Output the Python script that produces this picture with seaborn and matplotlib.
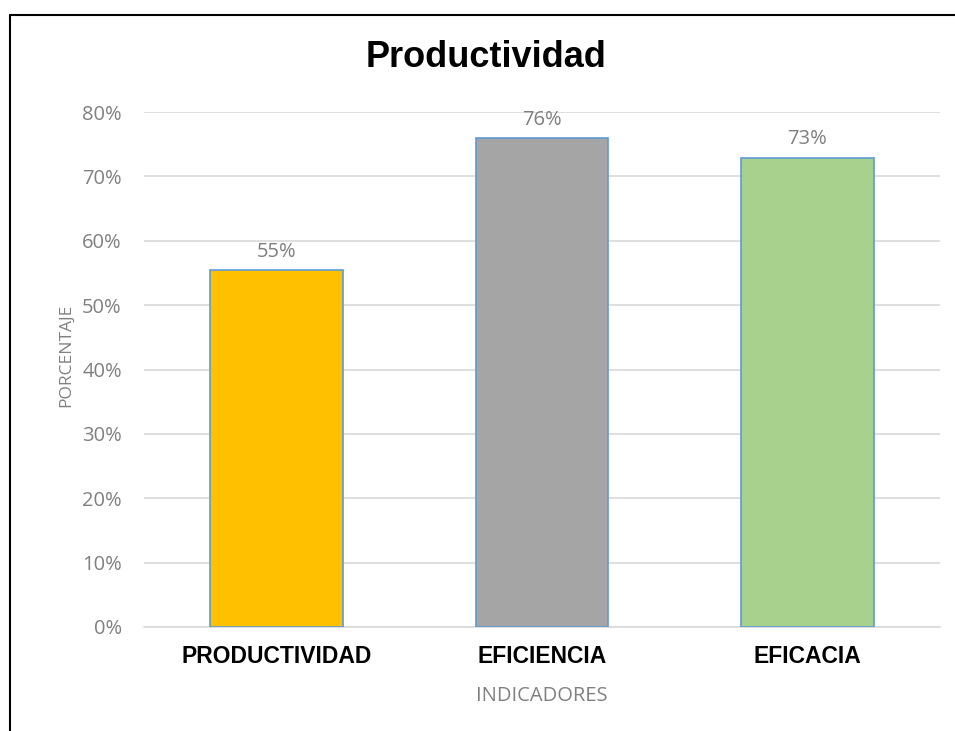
import matplotlib
matplotlib.use("Agg")
import matplotlib.pyplot as plt
import seaborn as sns
import pandas as pd
from matplotlib.lines import Line2D

categories = ["PRODUCTIVIDAD", "EFICIENCIA", "EFICACIA"]
values = [0.554, 0.759, 0.729]
labels = ["55%", "76%", "73%"]
colors = ["#FFC000", "#A5A5A5", "#A9D18E"]
yticks = [0, 0.1, 0.2, 0.3, 0.4, 0.5, 0.6, 0.7, 0.8]
ytick_labels = ["0%", "10%", "20%", "30%", "40%", "50%", "60%", "70%", "80%"]

sns.set_style("white")
plt.rcParams['font.family'] = ['Open Sans', 'DejaVu Sans']

df = pd.DataFrame({"cat": categories, "val": values})

fig = plt.figure(figsize=(9.55, 7.31), dpi=100)
ax = fig.add_axes([144/955, 1-627/731, (940-144)/955, (627-112)/731])

sns.barplot(data=df, x="cat", y="val", hue="cat", palette=colors, legend=False,
            width=0.5, edgecolor="#5B9BD5", linewidth=1.2, ax=ax, zorder=3, saturation=1)

ax.set_xlim(-0.5, 2.5)
ax.set_ylim(0, 0.8)
ax.set_yticks(yticks)
ax.set_yticklabels(ytick_labels, color="#808080", fontsize=14.5)
ax.yaxis.grid(True, color="#D9D9D9", linewidth=1.2, zorder=0)
ax.set_axisbelow(True)
for s in ["top", "right", "left"]:
    ax.spines[s].set_visible(False)
ax.spines["bottom"].set_color("#D9D9D9")
ax.spines["bottom"].set_linewidth(1.2)
ax.tick_params(axis="y", length=0, pad=16)
ax.tick_params(axis="x", length=0, pad=13)
ax.set_xticks(range(len(categories)))
ax.set_xticklabels(categories, fontsize=16.5, fontweight="bold", color="black",
                   family=["Liberation Sans", "DejaVu Sans"])

for i, (v, lab) in enumerate(zip(values, labels)):
    ax.text(i, v + 0.021, lab, ha="center", va="baseline", fontsize=14.5, color="#7F7F7F")

ax.set_xlabel("INDICADORES", fontsize=14.5, color="#808080")
ax.xaxis.set_label_coords(0.5, -0.115)
ax.set_ylabel("PORCENTAJE", fontsize=12.5, color="#808080")
ax.yaxis.set_label_coords(-0.088, 0.528)

fig.text(486/955, 1-57.5/731, "Productividad", ha="center", va="center", color="black",
         fontsize=26, fontweight="bold", family=["Liberation Sans", "DejaVu Sans"])

# border lines (top and left)
fig.add_artist(Line2D([10/955, 1.0], [1-15/731, 1-15/731], color="black", linewidth=1.5,
                      transform=fig.transFigure))
fig.add_artist(Line2D([10/955, 10/955], [0.0, 1-15/731], color="black", linewidth=1.5,
                      transform=fig.transFigure))

fig.savefig("out.png", dpi=100)
